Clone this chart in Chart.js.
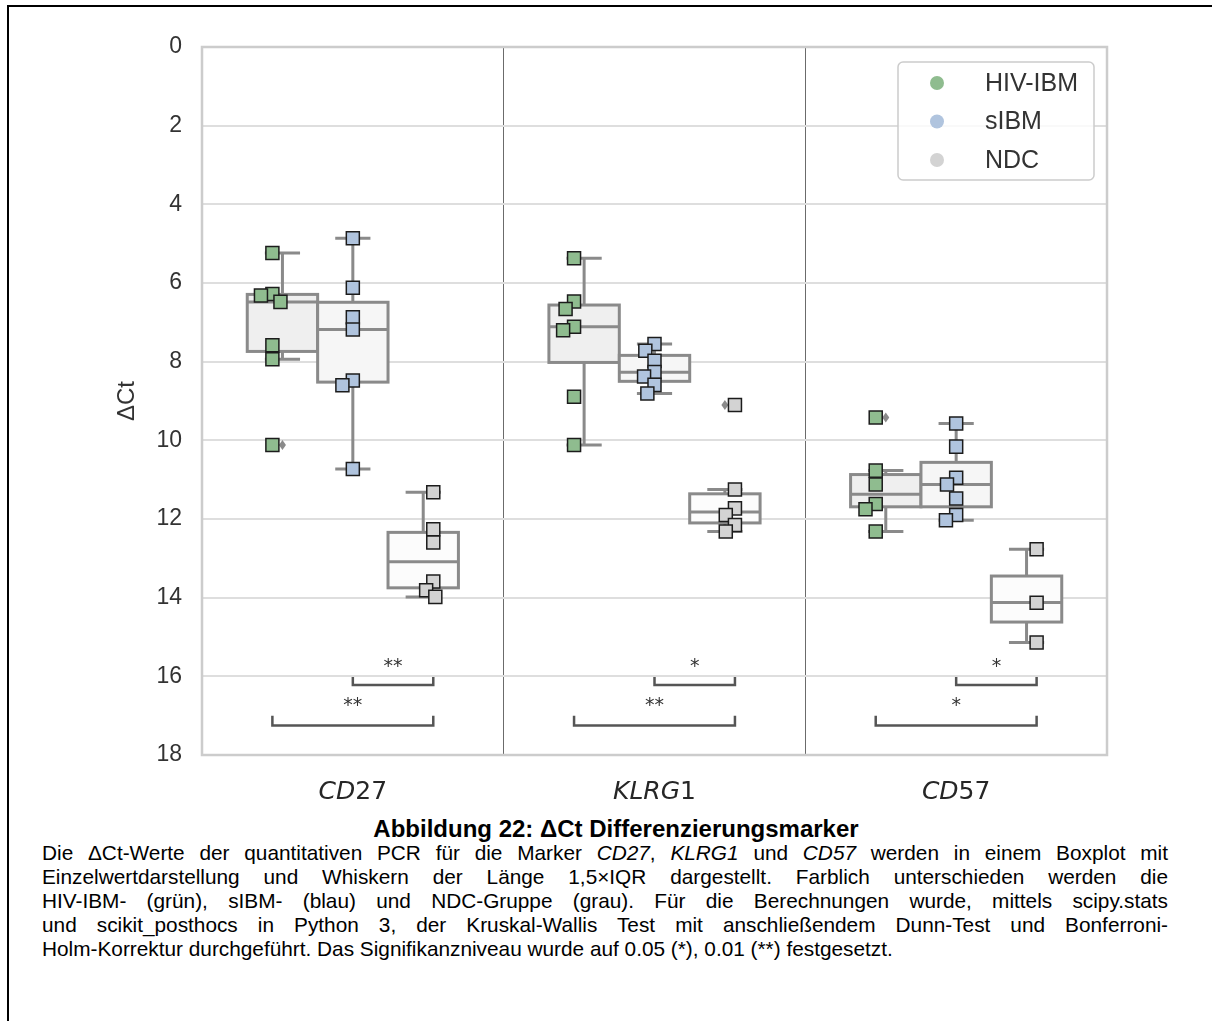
<!DOCTYPE html>
<html><head><meta charset="utf-8">
<script src="https://cdn.jsdelivr.net/npm/chart.js@4.4.0/dist/chart.umd.min.js"></script>
<style>
html,body{margin:0;padding:0;background:#fff;width:1212px;height:1021px;overflow:hidden;}
#frame{position:absolute;left:7px;top:5px;width:1300px;height:1100px;border:2.5px solid #000;box-sizing:border-box;}
#wrap{position:absolute;left:0;top:0;width:1212px;height:810px;}
#cap{position:absolute;left:42px;top:817px;width:1126px;font-family:'Liberation Sans',Arial,sans-serif;font-size:20.8px;line-height:24px;color:#000;}
#cap .t{text-align:center;font-weight:bold;font-size:24px;padding-left:22px;}
#cap .l{text-align:justify;text-align-last:justify;}
#cap .e{text-align:left;}
</style>
</head><body>
<div id="frame"></div>
<div id="wrap"><canvas id="c"></canvas></div>
<div id="cap">
<div class="t">Abbildung 22: ΔCt Differenzierungsmarker</div>
<div class="l">Die ΔCt-Werte der quantitativen PCR für die Marker <i>CD27</i>, <i>KLRG1</i> und <i>CD57</i> werden in einem Boxplot mit</div>
<div class="l">Einzelwertdarstellung und Whiskern der Länge 1,5×IQR dargestellt. Farblich unterschieden werden die</div>
<div class="l">HIV-IBM- (grün), sIBM- (blau) und NDC-Gruppe (grau). Für die Berechnungen wurde, mittels scipy.stats</div>
<div class="l">und scikit_posthocs in Python 3, der Kruskal-Wallis Test mit anschließendem Dunn-Test und Bonferroni-</div>
<div class="e">Holm-Korrektur durchgeführt. Das Signifikanzniveau wurde auf 0.05 (*), 0.01 (**) festgesetzt.</div>
</div>
<script>
// ---- data ----
const categories = ['CD27', 'KLRG1', 'CD57'];
const groups = ['HIV-IBM', 'sIBM', 'NDC'];
const yTicks = [0, 2, 4, 6, 8, 10, 12, 14, 16, 18];
// individual values per category
const hivIbmValues = [
  [5.24, 6.28, 6.32, 6.48, 7.58, 7.94, 10.12],
  [5.37, 6.47, 6.66, 7.11, 7.20, 8.89, 10.12],
  [9.42, 10.77, 11.12, 11.62, 11.75, 12.32]
];
const sIbmValues = [
  [4.86, 6.12, 6.87, 7.18, 8.48, 8.60, 10.73],
  [7.55, 7.72, 7.98, 8.26, 8.38, 8.59, 8.81],
  [9.57, 10.16, 10.95, 11.12, 11.48, 11.90, 12.03]
];
const ndcValues = [
  [11.32, 12.26, 12.60, 13.59, 13.81, 13.98],
  [9.10, 11.25, 11.73, 11.90, 12.15, 12.32],
  [12.77, 14.13, 15.14]
];
// box statistics, rows = groups, columns = categories
const q1Values     = [[6.29, 6.56, 10.87], [6.49, 7.84, 10.56], [12.34, 11.36, 13.45]];
const medianValues = [[6.48, 7.11, 11.37], [7.18, 8.27, 11.12], [13.09, 11.82, 14.12]];
const q3Values     = [[7.74, 8.02, 11.69], [8.52, 8.50, 11.69], [13.75, 12.10, 14.62]];
const whiskerLow   = [[5.24, 5.37, 10.77], [4.86, 7.55, 9.57], [11.32, 11.25, 12.77]];
const whiskerHigh  = [[7.94, 10.12, 12.32], [10.73, 8.81, 12.03], [13.98, 12.32, 15.14]];
const flierValues  = [[[10.12], [], [9.42]], [[], [], []], [[], [9.10], []]];
// significance: [groupA, groupB] pairs and labels per category
const sigPairs = [[1, 2], [0, 2]];
const sigLabels = [['**', '**'], ['*', '**'], ['*', '*']];

// ---- styles ----
const groupValues = [hivIbmValues, sIbmValues, ndcValues];
const pointColors = ['#8fbc8f', '#b0c4de', '#d3d3d3'];
const boxFills = ['#efefef', '#f6f6f6', '#fcfcfc'];
const BOX_EDGE = '#8a8a8a';
const BOX_OFF = [-0.7/3, 0, 0.7/3];
const BOX_W = 0.7/3;
const POINT_OFF = [-0.8/3, 0, 0.8/3];
const SWARM_D = 11;
const BRACKET_LEVELS = [[16.02, 16.22], [17.0, 17.25]];
const SANS = "'Liberation Sans', Arial, sans-serif";

const datasets = groups.map((g, gi) => ({
  label: g,
  data: groupValues[gi].flatMap((vals, ci) => vals.map(v => ({x: ci + POINT_OFF[gi], y: v}))),
  pointStyle: 'rect',
  pointRadius: 9.2,
  pointBorderWidth: 1.5,
  pointBackgroundColor: pointColors[gi],
  pointBorderColor: '#1c1c1c',
  showLine: false
}));

const boxPlugin = {
  id: 'boxes',
  beforeDatasetsDraw(chart) {
    const {ctx, scales: {x, y}} = chart;
    const unit = x.getPixelForValue(1) - x.getPixelForValue(0);
    ctx.save();
    groups.forEach((g, gi) => {
      categories.forEach((c, ci) => {
        const cx = x.getPixelForValue(ci + BOX_OFF[gi]);
        const hw = BOX_W * unit / 2;
        const pq1 = y.getPixelForValue(q1Values[gi][ci]);
        const pq3 = y.getPixelForValue(q3Values[gi][ci]);
        const pmed = y.getPixelForValue(medianValues[gi][ci]);
        const plo = y.getPixelForValue(whiskerLow[gi][ci]);
        const phi = y.getPixelForValue(whiskerHigh[gi][ci]);
        ctx.strokeStyle = BOX_EDGE;
        ctx.lineWidth = 3;
        ctx.lineCap = 'butt';
        ctx.beginPath();
        ctx.moveTo(cx, plo); ctx.lineTo(cx, pq1);
        ctx.moveTo(cx, pq3); ctx.lineTo(cx, phi);
        ctx.moveTo(cx - hw/2, plo); ctx.lineTo(cx + hw/2, plo);
        ctx.moveTo(cx - hw/2, phi); ctx.lineTo(cx + hw/2, phi);
        ctx.stroke();
        ctx.fillStyle = boxFills[gi];
        ctx.fillRect(cx - hw, pq1, 2*hw, pq3 - pq1);
        ctx.strokeRect(cx - hw, pq1, 2*hw, pq3 - pq1);
        ctx.beginPath();
        ctx.moveTo(cx - hw, pmed); ctx.lineTo(cx + hw, pmed);
        ctx.stroke();
        ctx.fillStyle = BOX_EDGE;
        flierValues[gi][ci].forEach(v => {
          const py = y.getPixelForValue(v);
          ctx.beginPath();
          ctx.moveTo(cx, py - 5); ctx.lineTo(cx + 3.5, py); ctx.lineTo(cx, py + 5); ctx.lineTo(cx - 3.5, py);
          ctx.closePath(); ctx.fill();
        });
      });
    });
    ctx.restore();
  },
  afterDatasetsDraw(chart) {
    const {ctx, scales: {x, y}} = chart;
    ctx.save();
    // significance brackets
    ctx.strokeStyle = '#555';
    ctx.lineWidth = 2.5;
    ctx.fillStyle = '#333';
    ctx.font = "19px 'DejaVu Sans'";
    ctx.textAlign = 'center';
    ctx.textBaseline = 'middle';
    categories.forEach((c, ci) => {
      sigPairs.forEach((pair, k) => {
        const xa = x.getPixelForValue(ci + POINT_OFF[pair[0]]);
        const xb = x.getPixelForValue(ci + POINT_OFF[pair[1]]);
        const yt = y.getPixelForValue(BRACKET_LEVELS[k][0]);
        const yb = y.getPixelForValue(BRACKET_LEVELS[k][1]);
        ctx.beginPath();
        ctx.moveTo(xa, yt); ctx.lineTo(xa, yb); ctx.lineTo(xb, yb); ctx.lineTo(xb, yt);
        ctx.stroke();
        ctx.fillText(sigLabels[ci][k], (xa + xb) / 2, yt - 10);
      });
    });
    ctx.restore();
  },
  afterDraw(chart) {
    const {ctx, chartArea: a, scales: {x}} = chart;
    ctx.save();
    // frame
    ctx.strokeStyle = '#cccccc';
    ctx.lineWidth = 2.5;
    ctx.strokeRect(a.left, a.top, a.right - a.left, a.bottom - a.top);
    // category labels (letters italic, digits upright)
    ctx.fillStyle = '#262626';
    ctx.textBaseline = 'alphabetic';
    ctx.textAlign = 'left';
    categories.forEach((c, ci) => {
      const runs = c.match(/[A-Za-z]+|[0-9]+/g);
      const fonts = runs.map(r => /[0-9]/.test(r) ? "25px 'DejaVu Sans'" : "italic 25px 'DejaVu Sans'");
      let total = 0;
      const widths = runs.map((r, i) => { ctx.font = fonts[i]; const w = ctx.measureText(r).width; total += w; return w; });
      let px = x.getPixelForValue(ci) - total / 2;
      runs.forEach((r, i) => { ctx.font = fonts[i]; ctx.fillText(r, px, a.bottom + 44); px += widths[i]; });
    });
    // legend
    const lx = 898, ly = 62, lw = 196, lh = 118;
    ctx.beginPath();
    ctx.roundRect(lx, ly, lw, lh, 5);
    ctx.fillStyle = 'rgba(255,255,255,0.8)';
    ctx.fill();
    ctx.strokeStyle = '#cccccc';
    ctx.lineWidth = 1.5;
    ctx.stroke();
    ctx.font = "25px " + SANS;
    ctx.textBaseline = 'middle';
    groups.forEach((g, gi) => {
      const yy = ly + 21 + gi * 38.5;
      ctx.beginPath();
      ctx.arc(lx + 39, yy, 7, 0, Math.PI * 2);
      ctx.fillStyle = pointColors[gi];
      ctx.fill();
      ctx.fillStyle = '#333';
      ctx.fillText(g, lx + 87, yy + 1);
    });
    ctx.restore();
  }
};

const chart = new Chart(document.getElementById('c'), {
  type: 'scatter',
  data: {datasets},
  options: {
    responsive: true,
    maintainAspectRatio: false,
    animation: false,
    events: [],
    layout: {padding: {top: 47, right: 105, left: 0, bottom: 0}},
    plugins: {legend: {display: false}, tooltip: {enabled: false}},
    scales: {
      x: {
        type: 'linear', min: -0.5, max: 2.5,
        ticks: {display: false, stepSize: 0.5},
        grid: {
          color: ctx => (ctx.tick && (Math.abs(ctx.tick.value - 0.5) < 1e-9 || Math.abs(ctx.tick.value - 1.5) < 1e-9)) ? '#6b6b6b' : 'rgba(0,0,0,0)',
          lineWidth: 1, drawTicks: false
        },
        border: {display: false},
        afterFit(s) { s.height = 55; }
      },
      y: {
        type: 'linear', min: 0, max: 18, reverse: true,
        afterBuildTicks(s) { s.ticks = yTicks.map(v => ({value: v})); },
        ticks: {color: '#333', font: {family: SANS, size: 23}, padding: 20},
        grid: {color: '#dedede', lineWidth: 2, drawTicks: false},
        border: {display: false},
        title: {display: true, text: 'ΔCt', color: '#333', font: {family: SANS, size: 24}, padding: {top: 113, bottom: 0}},
        afterFit(s) { s.width = 202; }
      }
    }
  },
  plugins: [boxPlugin]
});

// beeswarm layout of the points (seaborn-like), computed in pixel space
function swarmOffsets(values, yScale, d) {
  const order = values.map((v, i) => i).sort((a, b) => values[a] - values[b]);
  const placed = [];
  const res = new Array(values.length).fill(0);
  for (const i of order) {
    const py = yScale.getPixelForValue(values[i]);
    const neighbors = [];
    for (let k = placed.length - 1; k >= 0; k--) {
      if (Math.abs(py - placed[k].y) < d) neighbors.push(placed[k]); else break;
    }
    const cands = [0];
    let leftFirst = true;
    neighbors.forEach(n => {
      const dy = py - n.y;
      const dx = Math.sqrt(Math.max(d * d - dy * dy, 0)) * 1.05;
      if (leftFirst) cands.push(n.x - dx, n.x + dx); else cands.push(n.x + dx, n.x - dx);
      leftFirst = !leftFirst;
    });
    const sorted = cands.map((c, k) => [c, k]).sort((p, q) => Math.abs(p[0]) - Math.abs(q[0]) || p[1] - q[1]).map(p => p[0]);
    let chosen = sorted.find(c => neighbors.every(n => (c - n.x) ** 2 + (py - n.y) ** 2 >= d * d - 1e-6));
    if (chosen === undefined) chosen = sorted[0];
    placed.push({x: chosen, y: py});
    res[i] = chosen;
  }
  return res;
}
(function applySwarm() {
  const x = chart.scales.x, y = chart.scales.y;
  const unit = x.getPixelForValue(1) - x.getPixelForValue(0);
  groups.forEach((g, gi) => {
    const pts = [];
    groupValues[gi].forEach((vals, ci) => {
      const offs = swarmOffsets(vals, y, SWARM_D);
      vals.forEach((v, k) => pts.push({x: ci + POINT_OFF[gi] + offs[k] / unit, y: v}));
    });
    chart.data.datasets[gi].data = pts;
  });
  chart.update('none');
})();
</script>
</body></html>
